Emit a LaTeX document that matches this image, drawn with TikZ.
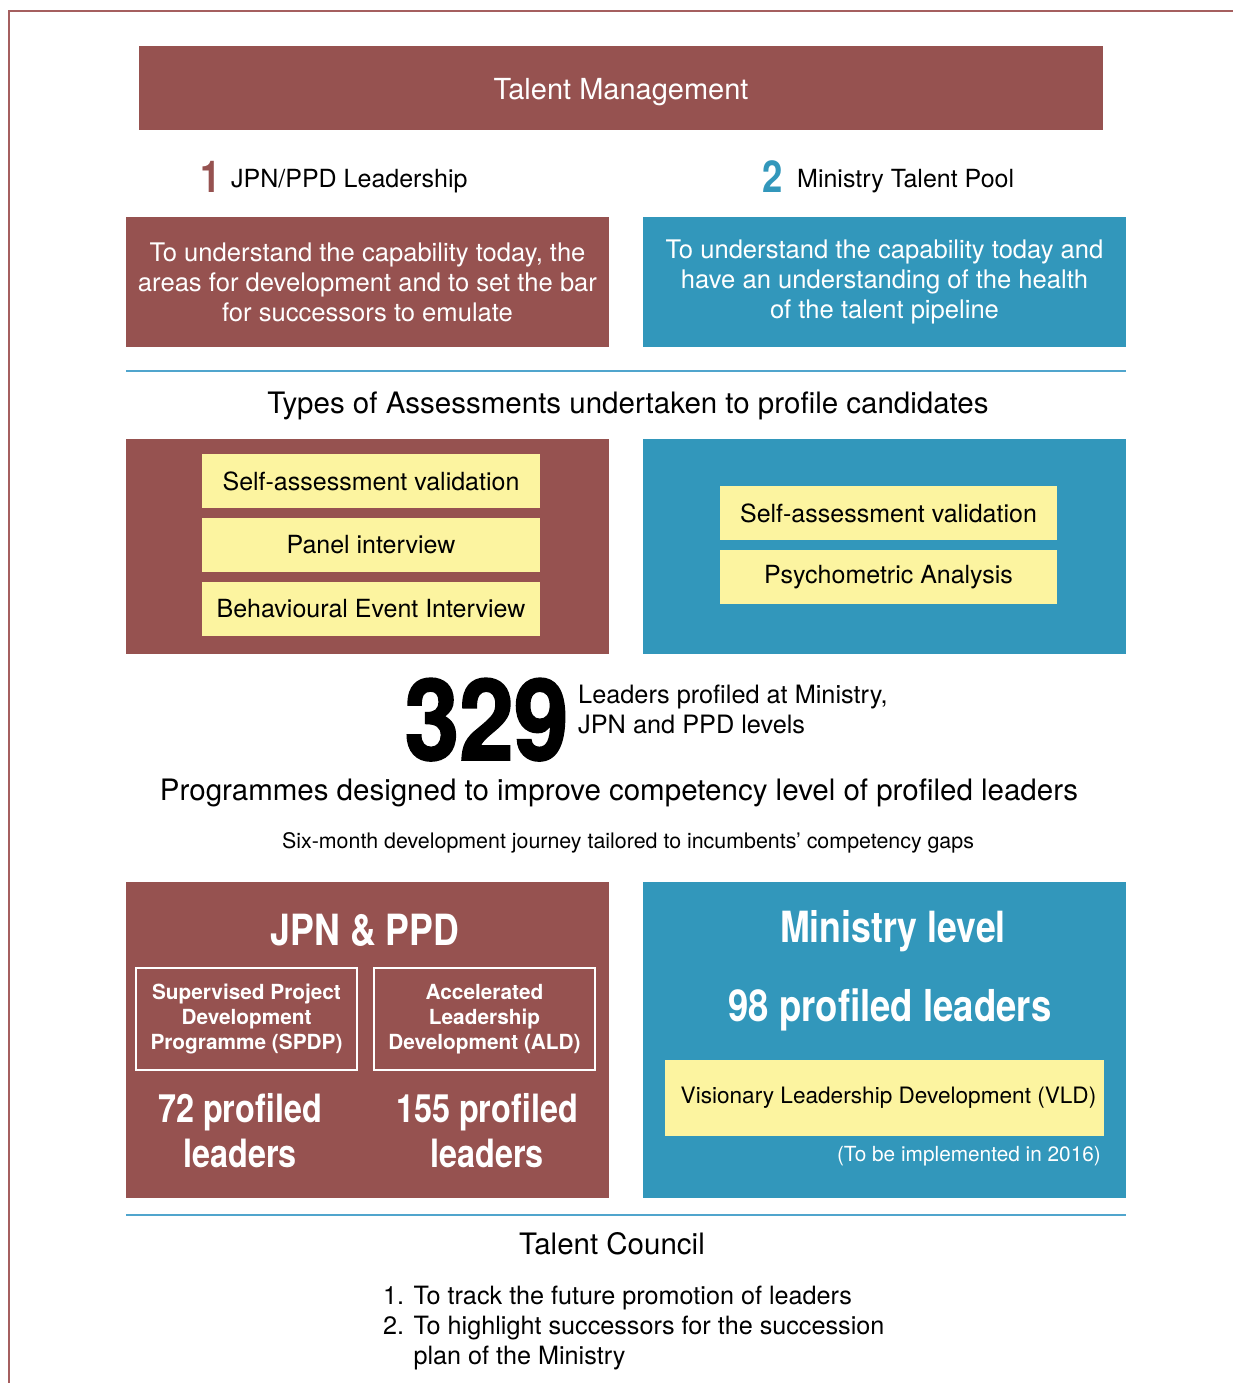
\documentclass[tikz,border=0pt]{standalone}
\usepackage{fontspec}
\setmainfont{TeX Gyre Heros}
\newfontfamily\condfont[FakeStretch=0.83]{TeX Gyre Heros}
\newfontfamily\heavyfont[FakeStretch=0.87,FakeBold=1.5]{TeX Gyre Heros}
\usepackage{tikz}
\usetikzlibrary{positioning}
\definecolor{redfill}{RGB}{150,82,80}
\definecolor{bluefill}{RGB}{50,151,187}
\definecolor{yellowfill}{RGB}{252,244,160}
\definecolor{framecol}{RGB}{165,95,95}
\definecolor{rulecol}{RGB}{80,165,205}
\tikzset{
  redbox/.style   ={fill=redfill, inner sep=0pt},
  bluebox/.style  ={fill=bluefill, inner sep=0pt},
  yellowbox/.style={fill=yellowfill, inner sep=0pt, minimum height=54pt, font=\fontsize{25}{28}\selectfont},
  boxtext/.style  ={text=white, align=center, font=\fontsize{25.6}{30}\selectfont},
  head/.style     ={font=\fontsize{25}{28}\selectfont, inner sep=0pt},
  bignum/.style   ={font=\condfont\bfseries\fontsize{44}{44}\selectfont, inner sep=0pt},
  caption/.style  ={font=\fontsize{29.5}{32}\selectfont, inner sep=0pt},
  progbox/.style  ={draw=white, line width=2pt, minimum width=221pt, minimum height=102pt, inner sep=0pt,
                    text=white, align=center, font=\bfseries\fontsize{20.8}{25}\selectfont},
  cond/.style     ={text=white, align=center, font=\condfont\bfseries\fontsize{43}{45}\selectfont, inner sep=0pt},
  rule/.style     ={draw=rulecol, line width=2pt}
}
\begin{document}
\begin{tikzpicture}[x=1pt, y=-1pt]
  \useasboundingbox (0,0) rectangle (1233,1383);
  \draw[framecol, line width=2.5pt] (9,1383) -- (9,11) -- (1233,11);
  \node[redbox, minimum width=964pt, minimum height=84pt, text height=23pt, text depth=0pt, text=white, font=\fontsize{29}{32}\selectfont] (title) at (621,88) {Talent Management};
  \node[bignum, text=redfill, anchor=base] (n1) at (211,193) {1};
  \node[head, anchor=base west] (h1) at (231,187) {JPN/PPD Leadership};
  \node[bignum, text=bluefill, anchor=base] (n2) at (773,193) {2};
  \node[head, anchor=base west] (h2) at (797,187) {Ministry Talent Pool};
  \node[redbox, boxtext, minimum width=483pt, minimum height=130pt] (lead) at (367.5,282) {To understand the capability today, the\\areas for development and to set the bar\\for successors to emulate};
  \node[bluebox, boxtext, minimum width=483pt, minimum height=130pt] (pool) at (884.5,282) {To understand the capability today and\\have an understanding of the health\\of the talent pipeline};
  \draw[rule] (126,371) -- (1126,371);
  \node[caption] (types) at (628,406) {Types of Assessments undertaken to profile candidates};
  \node[redbox, minimum width=483pt, minimum height=215pt] (assA) at (367.5,546.5) {};
  \node[bluebox, minimum width=483pt, minimum height=215pt] (assB) at (884.5,546.5) {};
  \node[yellowbox, minimum width=338pt] (selfA) at (371,481) {Self-assessment validation};
  \node[yellowbox, minimum width=338pt] (panel) at (371,545) {Panel interview};
  \node[yellowbox, minimum width=338pt] (bei)   at (371,609) {Behavioural Event Interview};
  \node[yellowbox, minimum width=337pt] (selfB) at (888.5,513) {Self-assessment validation};
  \node[yellowbox, minimum width=337pt] (psy)   at (888.5,577) {Psychometric Analysis};
  \node[font=\heavyfont\bfseries\fontsize{113}{113}\selectfont, inner sep=0pt, anchor=base] (total) at (486.5,760) {329};
  \node[font=\fontsize{25.3}{30}\selectfont, align=left, inner sep=0pt, anchor=west] (totaltxt) at (578,709) {Leaders profiled at Ministry,\\JPN and PPD levels};
  \node[caption] (prog) at (619,793) {Programmes designed to improve competency level of profiled leaders};
  \node[font=\fontsize{21.4}{24}\selectfont, inner sep=0pt] (six) at (628,843) {Six-month development journey tailored to incumbents’ competency gaps};
  \node[redbox, minimum width=483pt, minimum height=316pt] (jpn) at (367.5,1040) {};
  \node[bluebox, minimum width=483pt, minimum height=316pt] (min) at (884.5,1040) {};
  \node[cond] (jpnt) at (365,930) {JPN \& PPD};
  \node[progbox] (spdp) at (246.5,1019) {Supervised Project\\Development\\Programme (SPDP)};
  \node[progbox] (ald)  at (484.5,1019) {Accelerated\\Leadership\\Development (ALD)};
  \node[cond, font=\condfont\bfseries\fontsize{39}{45}\selectfont] (spdpn) at (240,1131) {72 profiled\\leaders};
  \node[cond, font=\condfont\bfseries\fontsize{39}{45}\selectfont] (aldn)  at (487,1131) {155 profiled\\leaders};
  \node[cond] (mint) at (893,931) {Ministry level};
  \node[cond, font=\condfont\bfseries\fontsize{44}{45}\selectfont] (minn) at (890,1010) {98 profiled leaders};
  \node[yellowbox, minimum width=439pt, minimum height=76pt, font=\fontsize{22.6}{26}\selectfont] (vld) at (884.5,1098) {\hspace{8pt}Visionary Leadership Development (VLD)};
  \node[text=white, font=\fontsize{20.8}{24}\selectfont, inner sep=0pt, anchor=east] (vldnote) at (1101,1156) {(To be implemented in 2016)};
  \draw[rule] (126,1215) -- (1126,1215);
  \node[caption] (council) at (612,1244) {Talent Council};
  \node[font=\fontsize{25.2}{30}\selectfont, align=left, inner sep=0pt, anchor=west] (tasks) at (383,1328) {1. To track the future promotion of leaders\\2. To highlight successors for the succession\\\hphantom{2. }plan of the Ministry};
\end{tikzpicture}
\end{document}
